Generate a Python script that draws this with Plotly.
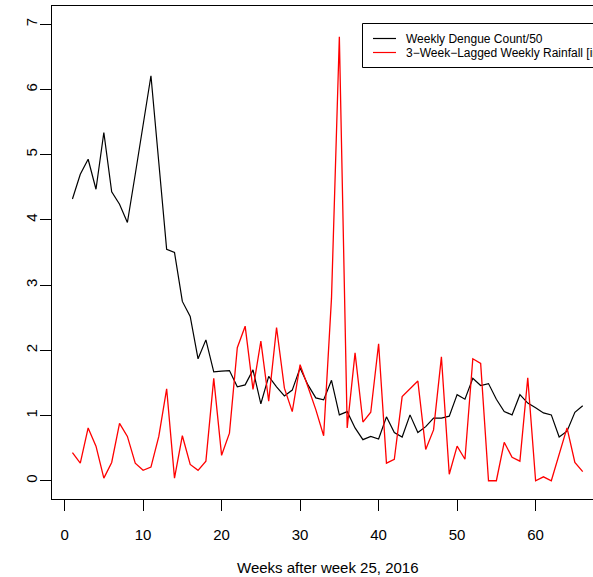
import plotly.graph_objects as go

weeks = list(range(1, 67))
dengue = [4.32, 4.70, 4.93, 4.47, 5.34, 4.43, 4.24, 3.96, 4.70, 5.46,
          6.21, 4.88, 3.55, 3.50, 2.75, 2.52, 1.87, 2.16, 1.67, 1.68,
          1.69, 1.44, 1.47, 1.70, 1.18, 1.60, 1.44, 1.30, 1.39, 1.73,
          1.47, 1.27, 1.24, 1.54, 1.01, 1.06, 0.81, 0.63, 0.68, 0.64,
          0.98, 0.74, 0.67, 1.01, 0.74, 0.83, 0.96, 0.96, 0.99, 1.32,
          1.25, 1.57, 1.46, 1.49, 1.25, 1.06, 1.01, 1.32, 1.19, 1.12,
          1.04, 1.01, 0.67, 0.76, 1.05, 1.15]
rain = [0.43, 0.27, 0.81, 0.53, 0.04, 0.28, 0.88, 0.68, 0.27, 0.16,
        0.21, 0.68, 1.41, 0.04, 0.69, 0.25, 0.16, 0.30, 1.57, 0.39,
        0.73, 2.04, 2.37, 1.40, 2.14, 1.22, 2.35, 1.42, 1.06, 1.78,
        1.44, 1.09, 0.69, 2.80, 6.81, 0.81, 1.96, 0.90, 1.05, 2.10,
        0.27, 0.33, 1.29, 1.41, 1.53, 0.48, 0.78, 1.90, 0.10, 0.53,
        0.33, 1.87, 1.80, 0.00, 0.00, 0.59, 0.36, 0.30, 1.58, 0.00,
        0.06, 0.00, 0.40, 0.81, 0.28, 0.14]
x_ticks = [0, 10, 20, 30, 40, 50, 60]
y_ticks = [0, 1, 2, 3, 4, 5, 6, 7]
legend_labels = ["Weekly Dengue Count/50", "3\u2212Week\u2212Lagged Weekly Rainfall [in]"]
x_title = "Weeks after week 25, 2016"

W, H = 593, 577
ML, MR, MT, MB = 52, 0, 6, 78
PW, PH = W - ML - MR, H - MT - MB

def px_x(p):
    return (p - ML) / PW

def px_y(p):
    return (H - MB - p) / PH

FONT = "Liberation Sans, Arial, Helvetica, sans-serif"

fig = go.Figure()
fig.add_trace(go.Scatter(x=weeks, y=dengue, mode="lines", name=legend_labels[0],
                         line=dict(color="black", width=1.2), showlegend=False))
fig.add_trace(go.Scatter(x=weeks, y=rain, mode="lines", name=legend_labels[1],
                         line=dict(color="#ff0000", width=1.3), showlegend=False))

# legend box drawn manually (cropped on the right like the reference)
lx0, ly0, ly1 = 362.5, 23.5, 67.5
for (xa, ya, xb, yb) in [(lx0, ly0, W + 5, ly0), (lx0, ly1, W + 5, ly1), (lx0, ly0, lx0, ly1)]:
    fig.add_shape(type="line", xref="paper", yref="paper",
                  x0=px_x(xa), y0=px_y(ya), x1=px_x(xb), y1=px_y(yb),
                  line=dict(color="black", width=1))
for i, (lab, col) in enumerate(zip(legend_labels, ["black", "#ff0000"])):
    yy = 38.5 + 14 * i
    fig.add_shape(type="line", xref="paper", yref="paper",
                  x0=px_x(373), y0=px_y(yy), x1=px_x(396), y1=px_y(yy),
                  line=dict(color=col, width=1.2))
    fig.add_annotation(text=lab, xref="paper", yref="paper", x=px_x(404), y=px_y(yy),
                       xanchor="left", yanchor="middle", showarrow=False,
                       font=dict(family=FONT, size=12, color="black"))

fig.add_annotation(text=x_title, xref="paper", yref="paper", x=px_x(327.8), y=px_y(567),
                   xanchor="center", yanchor="middle", showarrow=False,
                   font=dict(family=FONT, size=15, color="black"))

fig.update_layout(
    width=W, height=H,
    margin=dict(l=ML, r=MR, t=MT, b=MB, pad=0),
    paper_bgcolor="white", plot_bgcolor="white",
    font=dict(family=FONT, size=15, color="black"),
    xaxis=dict(range=[-1.604, 67.31], tickvals=x_ticks, showgrid=False, zeroline=False,
               showline=True, linecolor="black", linewidth=1, mirror=True,
               ticks="outside", ticklen=11, tickcolor="black", tickwidth=1,
               ticklabelstandoff=11, tickfont=dict(size=15)),
    yaxis=dict(range=[-0.28, 7.28], tickvals=y_ticks, showgrid=False, zeroline=False,
               showline=True, linecolor="black", linewidth=1,
               ticks="outside", ticklen=11, tickcolor="black", tickwidth=1,
               tickangle=-90, ticklabelstandoff=-3, tickfont=dict(size=15)),
)

fig.write_html("out.html")
